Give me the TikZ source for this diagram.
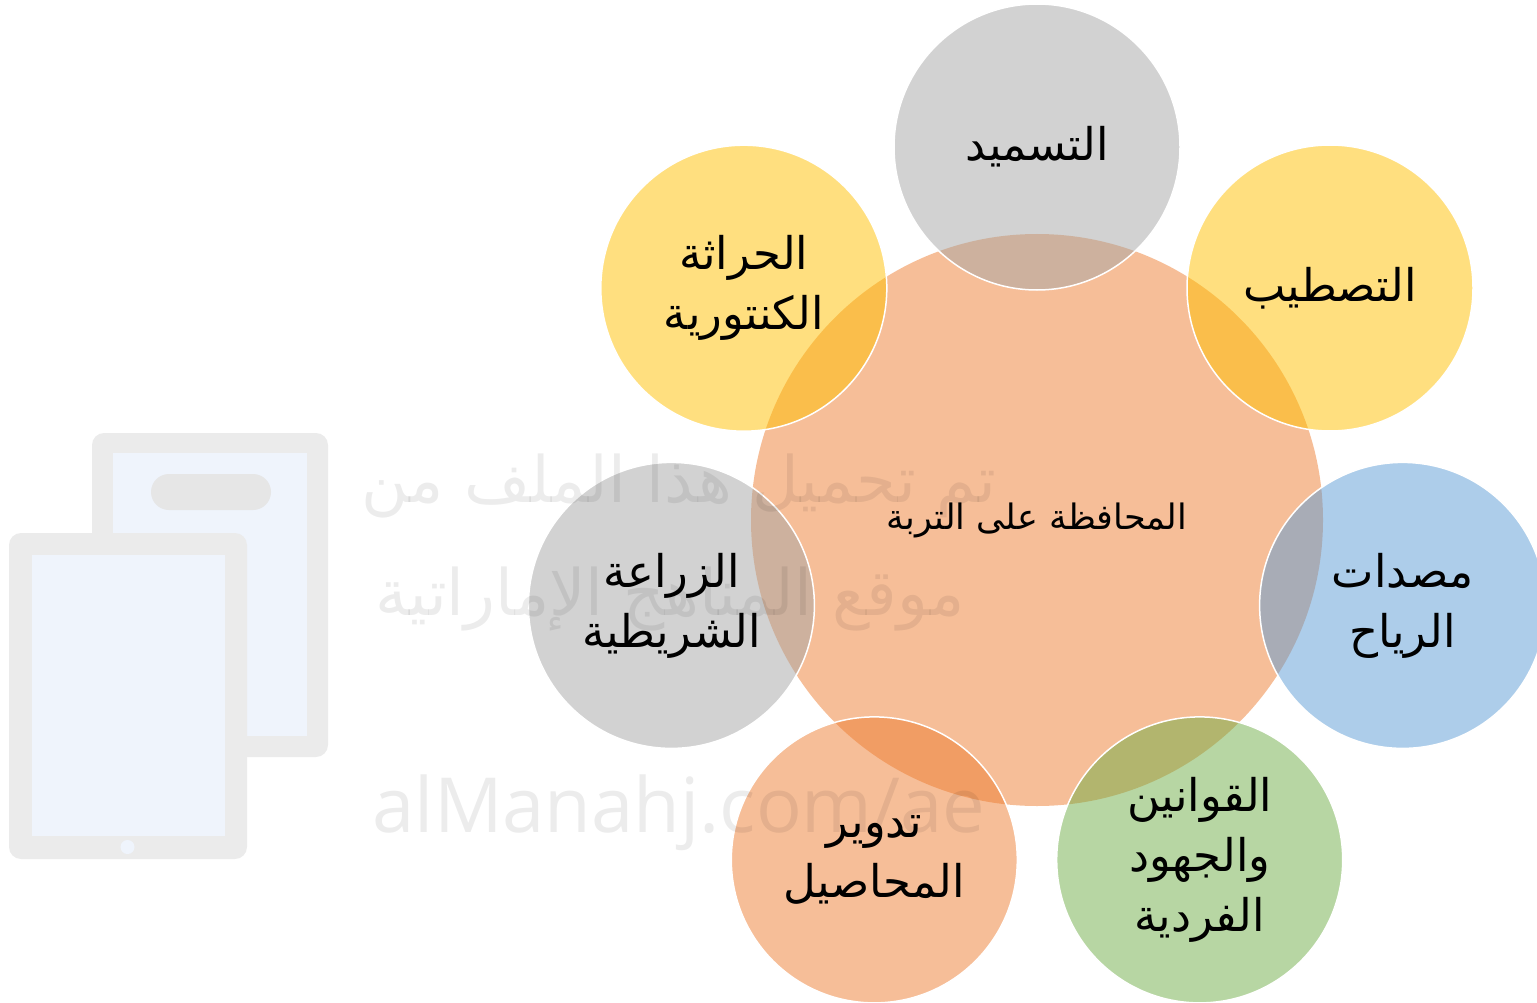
\documentclass[tikz,border=0pt]{standalone}
\usepackage{fontspec}
\TeXXeTstate=1
\newfontfamily\arabicfont[Script=Arabic]{DejaVu Sans}
\newfontfamily\latinwm{Open Sans}
\definecolor{cgray}{HTML}{A5A5A5}
\definecolor{cyellow}{HTML}{FFC000}
\definecolor{cblue}{HTML}{5B9BD5}
\definecolor{cgreen}{HTML}{70AD47}
\definecolor{corange}{HTML}{ED7D31}
\definecolor{wmframe}{HTML}{EBEBEB}
\definecolor{wmpill}{HTML}{E6E6E6}
\definecolor{wmscreen}{HTML}{EFF4FC}
\begin{document}
\begin{tikzpicture}[x=1pt,y=-1pt,
  hub/.style={circle, minimum size=572pt, inner sep=0pt, fill=corange, fill opacity=0.5, text opacity=1,
    font=\arabicfont\fontsize{35}{40}\selectfont},
  petal/.style={circle, minimum size=286pt, inner sep=0pt, fill=#1, fill opacity=0.5,
    draw=white, draw opacity=1, line width=1.5pt, text opacity=1, align=center,
    font=\arabicfont\fontsize{45}{60}\selectfont},
  wmtext/.style={text=black, text opacity=0.075, inner sep=0pt},
  frame/.style={fill=wmframe, rounded corners=12pt},
  screen/.style={fill=wmscreen},
]
\useasboundingbox (0,0) rectangle (1537,1003);

% watermark tablets
\fill[frame] (92,433) rectangle (328,757);
\fill[screen] (113,453) rectangle (307,736);
\fill[wmpill, rounded corners=18pt] (151,474) rectangle (271,510);
\fill[frame] (9,533) rectangle (247,859);
\fill[screen] (32,555) rectangle (225,836);
\fill[wmscreen] (127.5,847) circle (7pt);

% hub
\node[hub] (hub) at (1037,520) {\beginR المحافظة على التربة\endR};

% petals
\node[petal=cgray]   (p0) at (1037,147) {\beginR التسميد\endR};
\node[petal=cyellow] (p1) at (1330,288) {\beginR التصطيب\endR};
\node[petal=cblue]   (p2) at (1402.6,605.4) {\beginR مصدات\endR\\\beginR الرياح\endR};
\node[petal=cgreen]  (p3) at (1199.7,859.9) {\beginR القوانين\endR\\\beginR والجهود\endR\\\beginR الفردية\endR};
\node[petal=corange] (p4) at (874.3,859.9) {\beginR تدوير\endR\\\beginR المحاصيل\endR};
\node[petal=cgray]   (p5) at (671.4,605.4) {\beginR الزراعة\endR\\\beginR الشريطية\endR};
\node[petal=cyellow] (p6) at (743.8,288.2) {\beginR الحراثة\endR\\\beginR الكنتورية\endR};

% watermark texts
\node[wmtext, anchor=base, font=\arabicfont\fontsize{64}{70}\selectfont] (wm1) at (679,502) {\beginR تم تحميل هذا الملف من\endR};
\node[wmtext, anchor=base, font=\arabicfont\fontsize{64}{70}\selectfont] (wm2) at (670,615) {\beginR موقع المناهج الإماراتية\endR};
\node[wmtext, anchor=base, font=\latinwm\fontsize{76}{80}\selectfont] (wm3) at (679,832) {alManahj.com/ae};
\end{tikzpicture}
\end{document}
